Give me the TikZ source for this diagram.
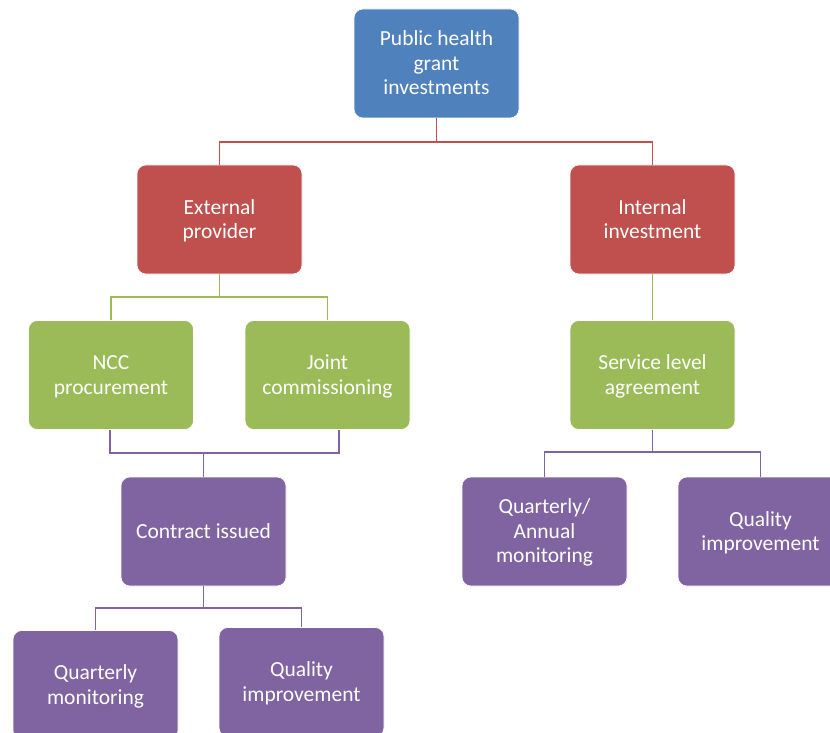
\documentclass[tikz,border=0pt]{standalone}
\usepackage{fontspec}
\setmainfont{Carlito}
\definecolor{cblue}{HTML}{4F81BD}
\definecolor{cred}{HTML}{C0504D}
\definecolor{cgreen}{HTML}{9BBB59}
\definecolor{cpurple}{HTML}{8064A2}
\newcommand{\bxtop}{\rule{0pt}{21pt}}
\newcommand{\bxbot}{\rule[-7.35pt]{0pt}{0pt}}
\tikzset{
  box/.style={rectangle, rounded corners=9pt, minimum width=165pt, minimum height=109pt,
    inner sep=4pt, align=center, text=white, draw=white, line width=0.6pt,
    font=\fontsize{21.5pt}{24.5pt}\selectfont},
  bluebox/.style={box, fill=cblue},
  redbox/.style={box, fill=cred},
  greenbox/.style={box, fill=cgreen},
  purplebox/.style={box, fill=cpurple},
  conn/.style={line width=1.7pt},
}
\begin{document}
\begin{tikzpicture}[x=1pt,y=1pt]
\clip (0,0) rectangle (830,-733);
\fill[white] (0,0) rectangle (830,-733);
\node[bluebox] (top) at (436.5,-63.5) {\bxtop Public health\\grant\\investments\bxbot};
\node[redbox] (ext) at (219.5,-219.5) {\bxtop External\\provider\bxbot};
\node[redbox] (int) at (652.5,-219.5) {\bxtop Internal\\investment\bxbot};
\node[greenbox] (ncc) at (111,-375) {\bxtop NCC\\procurement\bxbot};
\node[greenbox] (joint) at (327.5,-375) {\bxtop Joint\\commissioning\bxbot};
\node[greenbox] (sla) at (652.5,-375) {\bxtop Service level\\agreement\bxbot};
\node[purplebox] (contract) at (203.5,-531.5) {\bxtop Contract issued\bxbot};
\node[purplebox] (qm) at (95.5,-685) {\bxtop Quarterly\\monitoring\bxbot};
\node[purplebox] (qi) at (301.5,-682) {\bxtop Quality\\improvement\bxbot};
\node[purplebox] (qa) at (544.5,-531.5) {\bxtop Quarterly/\\Annual\\monitoring\bxbot};
\node[purplebox] (qi2) at (760.5,-531.5) {\bxtop Quality\\improvement\bxbot};
% red connectors
\draw[conn, cred] (top.south) -- ++(0,-23.5) -| (ext.north);
\draw[conn, cred] (top.south) -- ++(0,-23.5) -| (int.north);
% green connectors
\draw[conn, cgreen] (ext.south) -- ++(0,-23) -| (ncc.north);
\draw[conn, cgreen] (ext.south) -- ++(0,-23) -| (joint.north);
\draw[conn, cgreen] (int.south) -- (sla.north);
% purple connectors
\draw[conn, cpurple] ([xshift=-1pt]ncc.south) -- ++(0,-23) -| (contract.north);
\draw[conn, cpurple] ([xshift=11.5pt]joint.south) -- ++(0,-23) -| (contract.north);
\draw[conn, cpurple] (contract.south) -- ++(0,-22) -| (qm.north);
\draw[conn, cpurple] (contract.south) -- ++(0,-22) -| (qi.north);
\draw[conn, cpurple] (sla.south) -- ++(0,-22) -| (qa.north);
\draw[conn, cpurple] (sla.south) -- ++(0,-22) -| (qi2.north);
\end{tikzpicture}
\end{document}
